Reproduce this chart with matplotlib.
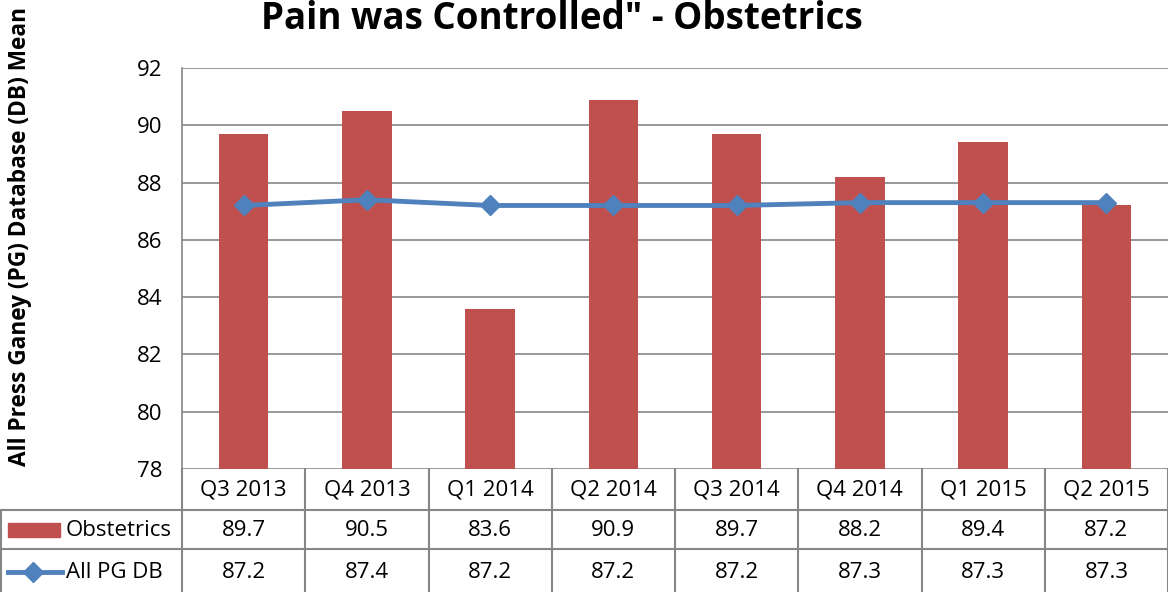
import matplotlib.pyplot as plt
import matplotlib.transforms as mtransforms
from matplotlib.patches import Rectangle
from matplotlib.lines import Line2D

plt.rcParams['font.family'] = ['Open Sans', 'DejaVu Sans']

quarters = ["Q3 2013", "Q4 2013", "Q1 2014", "Q2 2014",
            "Q3 2014", "Q4 2014", "Q1 2015", "Q2 2015"]
obstetrics = [89.7, 90.5, 83.6, 90.9, 89.7, 88.2, 89.4, 87.2]
all_pg_db = [87.2, 87.4, 87.2, 87.2, 87.2, 87.3, 87.3, 87.3]
y_ticks = [78, 80, 82, 84, 86, 88, 90, 92]

W, H = 1168, 592
RED = "#C0504D"
BLUE = "#4F81BD"
GRID = "#868686"
FS = 16

fig = plt.figure(figsize=(W / 100, H / 100), dpi=100)


def fy(py):
    # pixel row (from top) -> figure fraction
    return 1 - py / H


ax = fig.add_axes([182 / W, fy(469), 1 - 182 / W, (469 - 68) / H])
x = list(range(len(quarters)))
ax.bar(x, obstetrics, width=0.4, color=RED, zorder=2)
ax.plot(x, all_pg_db, color=BLUE, lw=3.5, marker="D", ms=10,
        markeredgecolor=BLUE, zorder=3)
ax.set_xlim(-0.5, len(quarters) - 0.5)
ax.set_ylim(78, 92)
ax.set_yticks(y_ticks)
ax.set_yticklabels([str(t) for t in y_ticks], fontsize=FS)
ax.tick_params(axis="y", length=0, pad=14)
ax.set_xticks([])
ax.grid(axis="y", color=GRID, lw=1.2, zorder=0)
for s in ["top", "right", "bottom"]:
    ax.spines[s].set_visible(False)
ax.spines["left"].set_color(GRID)
ax.spines["left"].set_linewidth(1.2)

# titles
fig.text(562 / W, fy(29), "Pain was Controlled\" - Obstetrics",
         ha="center", va="baseline", fontsize=26.5, fontweight="bold")
fig.text(20 / W, fy(466), "All Press Ganey (PG) Database (DB) Mean",
         rotation=90, ha="center", va="bottom", fontsize=16.3,
         fontweight="bold")

# data table below the plot
tr = mtransforms.blended_transform_factory(ax.transData, fig.transFigure)
n = len(quarters)
lc = dict(color=GRID, lw=1.5, clip_on=False)
for i in range(n + 1):
    fig.add_artist(Line2D([i - 0.5, i - 0.5], [fy(469), fy(600)],
                          transform=tr, **lc))
fig.add_artist(Line2D([0, 1], [fy(510), fy(510)], transform=fig.transFigure, **lc))
fig.add_artist(Line2D([0, 1], [fy(549), fy(549)], transform=fig.transFigure, **lc))
fig.add_artist(Line2D([1 / W, 1 / W], [fy(510), fy(600)],
                      transform=fig.transFigure, **lc))

for i, q in enumerate(quarters):
    fig.text(i, fy(490), q, transform=tr, ha="center", va="center", fontsize=FS)
    fig.text(i, fy(530), f"{obstetrics[i]:.1f}", transform=tr,
             ha="center", va="center", fontsize=FS)
    fig.text(i, fy(572), f"{all_pg_db[i]:.1f}", transform=tr,
             ha="center", va="center", fontsize=FS)

# legend keys in the first column
fig.add_artist(Rectangle((8 / W, fy(537)), 52 / W, 14 / H, color=RED,
                         transform=fig.transFigure))
fig.text(66 / W, fy(530), "Obstetrics", ha="left", va="center", fontsize=FS)
fig.add_artist(Line2D([8 / W, 62 / W], [fy(572), fy(572)], color=BLUE, lw=3.5,
                      transform=fig.transFigure))
fig.add_artist(Line2D([33 / W], [fy(572)], color=BLUE, marker="D", ms=10,
                      transform=fig.transFigure))
fig.text(66 / W, fy(572), "All PG DB", ha="left", va="center", fontsize=FS)

fig.savefig("out.png", dpi=100)
